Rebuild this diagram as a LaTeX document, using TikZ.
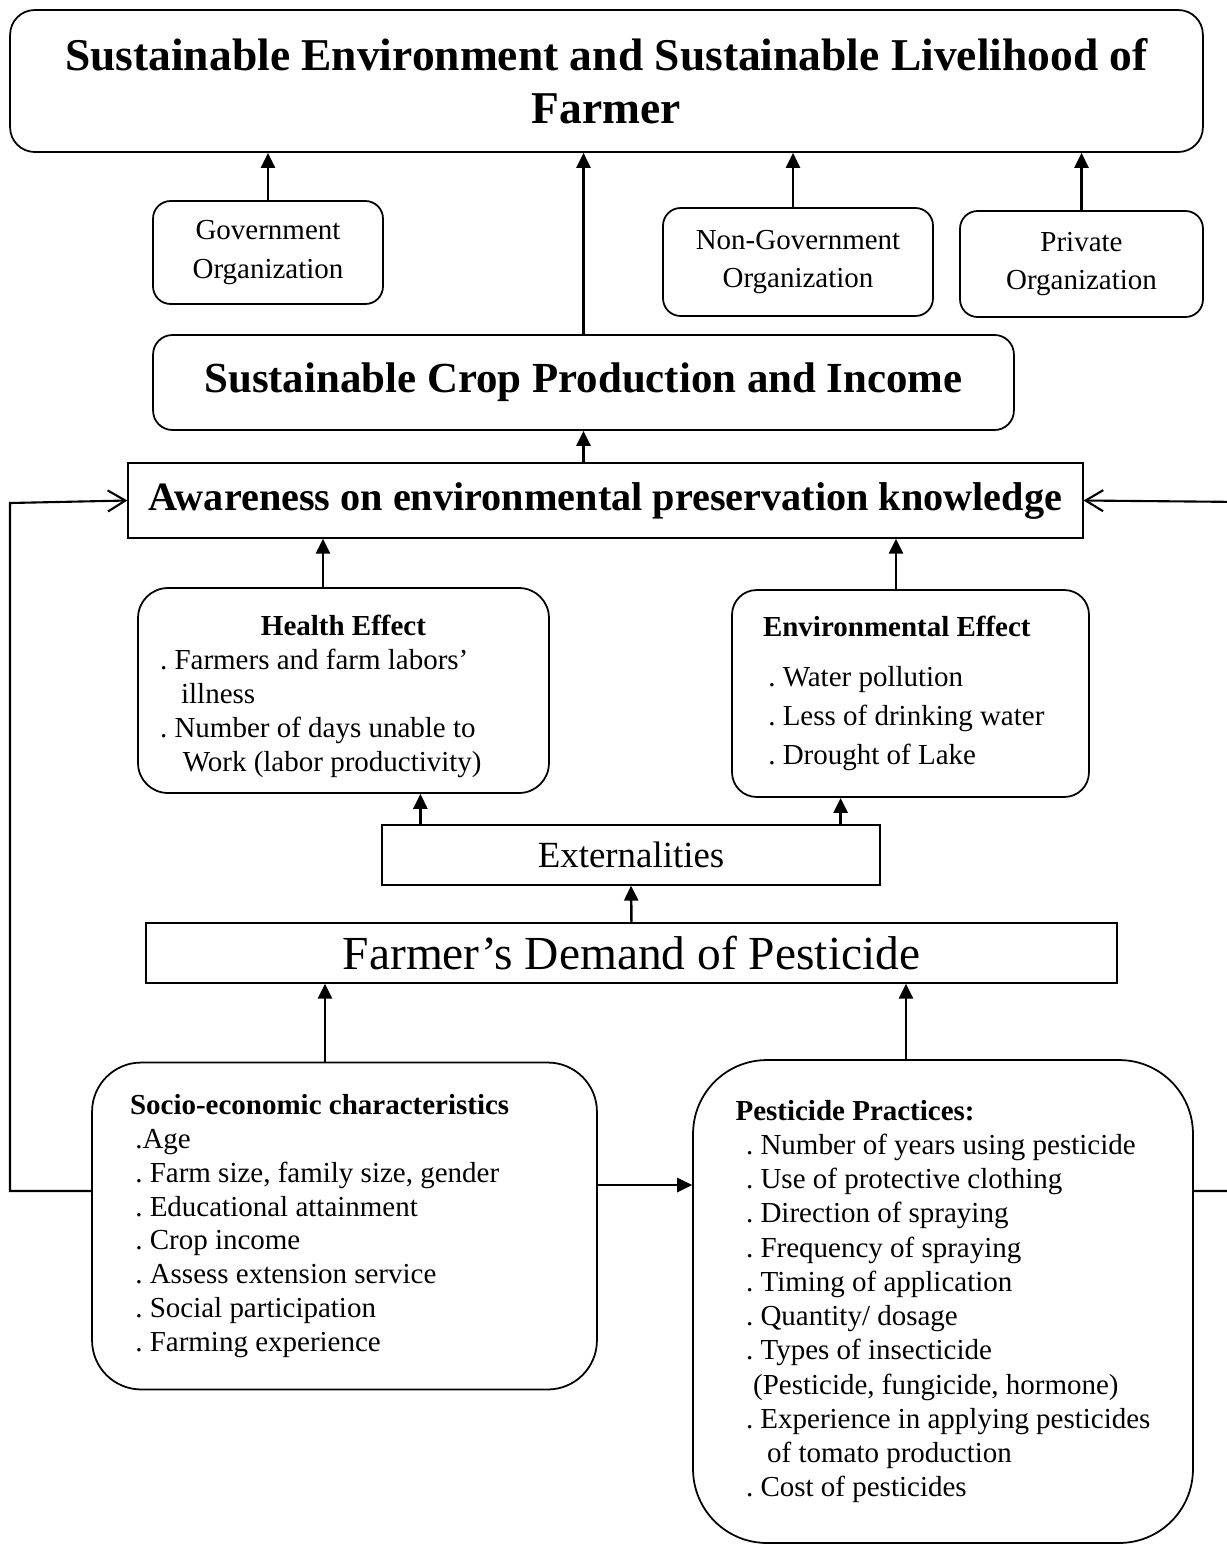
\documentclass[tikz,border=0pt]{standalone}
\usepackage{fontspec}
\setmainfont{Liberation Serif}
\usetikzlibrary{arrows.meta,positioning}

\newcommand{\bodyfont}{\fontsize{16.5}{19.2}\selectfont\frenchspacing\hyphenpenalty=10000}
\newcommand{\pestfont}{\fontsize{16.5}{19.5}\selectfont\frenchspacing\hyphenpenalty=10000}
\newcommand{\orgfont}{\fontsize{16.5}{22}\selectfont}
\newcommand{\tightsp}{\spaceskip=0.25em plus 0.1em minus 0.05em\relax}

\tikzset{
  rbox/.style={draw,rounded corners=#1,line width=1pt,inner sep=0pt,align=center},
  sbox/.style={draw,line width=0.75pt,inner sep=0pt,align=center},
  up/.style={-{Triangle[length=8.5pt,width=8pt]},line width=1.4pt},
  back/.style={-{Straight Barb[length=10pt,width=12pt]},line width=1.2pt},
}

\begin{document}
\begin{tikzpicture}[x=0.02cm,y=-0.02cm]
  \useasboundingbox (0,0) rectangle (1227,1549);
  \clip (0,0) rectangle (1227,1549);
  % goal
  \node[rbox=14pt,minimum width=23.86cm,minimum height=2.84cm,font=\fontsize{25.9}{30}\selectfont\bfseries] (goal) at (606.5,81)
    {Sustainable Environment and Sustainable Livelihood of\\Farmer};
  % organizations
  \node[rbox=10pt,minimum width=4.6cm,minimum height=2.06cm,font=\orgfont] (gov) at (268,252.5) {Government\\Organization};
  \node[rbox=10pt,minimum width=5.4cm,minimum height=2.16cm,font=\orgfont] (ngo) at (798,262) {Non-Government\\Organization};
  \node[rbox=10pt,minimum width=4.86cm,minimum height=2.12cm,font=\orgfont] (pvt) at (1081.5,264) {Private\\Organization};
  % crop production
  \node[rbox=11pt,minimum width=17.22cm,minimum height=1.9cm,font=\fontsize{24.4}{28}\selectfont\bfseries] (crop) at (583.5,382.5)
    {Sustainable Crop Production and Income};
  % awareness
  \node[sbox,minimum width=19.1cm,minimum height=1.5cm,font=\fontsize{22.9}{27}\selectfont\bfseries] (aware) at (605.5,500.5)
    {Awareness on environmental preservation knowledge};
  % effects
  \node[rbox=17pt,minimum height=4.1cm,text width=7.34cm,inner xsep=0.44cm,align=left,font=\bodyfont] (health) at (343.5,690.5)
    {\tightsp\rule{0pt}{18pt}\makebox[7.34cm]{\textbf{Health Effect}}\\[0.5pt]
     . Farmers and farm labors’\\
     \hspace*{12pt}illness\\
     . Number of days unable to\\
     \hspace*{13pt}Work (labor productivity)};
  \node[rbox=14pt,minimum height=4.14cm,text width=5.9cm,inner xsep=0.62cm,align=left,font=\bodyfont] (env) at (910.5,693.5)
    {\tightsp\textbf{Environmental Effect}\\[9pt]
     \hspace*{3pt}. Water pollution\\[3pt]
     \hspace*{3pt}. Less of drinking water\\[3pt]
     \hspace*{3pt}. Drought of Lake};
  \node[sbox,minimum width=9.96cm,minimum height=1.2cm,font=\fontsize{21}{25}\selectfont] (ext) at (631,855) {Externalities};
  \node[sbox,minimum width=19.42cm,minimum height=1.2cm,font=\fontsize{27}{32}\selectfont] (demand) at (631.5,953)
    {Farmer’s Demand of Pesticide};
  % determinants
  \node[rbox=28pt,minimum height=6.54cm,text width=8.58cm,inner xsep=0.76cm,align=left,font=\bodyfont] (socio) at (344.5,1226)
    {\tightsp\textbf{Socio-economic characteristics}\\
     \hspace*{3pt}.Age\\
     \hspace*{3pt}. Farm size, family size, gender\\
     \hspace*{3pt}. Educational attainment\\
     \hspace*{3pt}. Crop income\\
     \hspace*{3pt}. Assess extension service\\
     \hspace*{3pt}. Social participation\\
     \hspace*{3pt}. Farming experience};
  \node[rbox=42pt,minimum height=9.66cm,text width=8.3cm,inner xsep=0.85cm,align=left,font=\pestfont] (pest) at (943,1301.5)
    {\tightsp\textbf{Pesticide Practices:}\\
     \hspace*{6pt}. Number of years using pesticide\\
     \hspace*{6pt}. Use of protective clothing\\
     \hspace*{6pt}. Direction of spraying\\
     \hspace*{6pt}. Frequency of spraying\\
     \hspace*{6pt}. Timing of application\\
     \hspace*{6pt}. Quantity/ dosage\\
     \hspace*{6pt}. Types of insecticide\\
     \hspace*{10pt}(Pesticide, fungicide, hormone)\\
     \hspace*{6pt}. Experience in applying pesticides\\
     \hspace*{18pt}of tomato production\\
     \hspace*{6pt}. Cost of pesticides};
  % arrows up
  \draw[up] (gov.north) -- (gov.north |- goal.south);
  \draw[up] (crop.north) -- (crop.north |- goal.south);
  \draw[up] ([xshift=-0.1cm]ngo.north) -- ([xshift=-0.1cm]ngo.north |- goal.south);
  \draw[up] (pvt.north) -- (pvt.north |- goal.south);
  \draw[up] (aware.north -| crop.south) -- (crop.south);
  \coordinate (h0) at ([xshift=-0.41cm]health.north);
  \coordinate (e0) at ([xshift=-0.29cm]env.north);
  \draw[up] (h0) -- (h0 |- aware.south);
  \draw[up] (e0) -- (e0 |- aware.south);
  \coordinate (h1) at ([xshift=0.78cm]ext.north west);
  \coordinate (e1) at ([xshift=-0.8cm]ext.north east);
  \draw[up] (h1) -- (h1 |- health.south);
  \draw[up] (e1) -- (e1 |- env.south);
  \draw[up] (demand.north) -- (ext.south);
  \draw[up] (socio.north -| 325,0) -- (demand.south -| 325,0);
  \draw[up] (pest.north -| 906,0) -- (demand.south -| 906,0);
  \draw[up] (socio.east |- 0,1185) -- (pest.west |- 0,1185);
  % feedback loops
  \coordinate (lft) at (10,503);
  \coordinate (rgt) at (1245,502);
  \draw[back] (socio.west |- 0,1191) -| (lft) -- (aware.west);
  \draw[back] (pest.east |- 0,1191) -| (rgt) -- (aware.east);
\end{tikzpicture}
\end{document}
